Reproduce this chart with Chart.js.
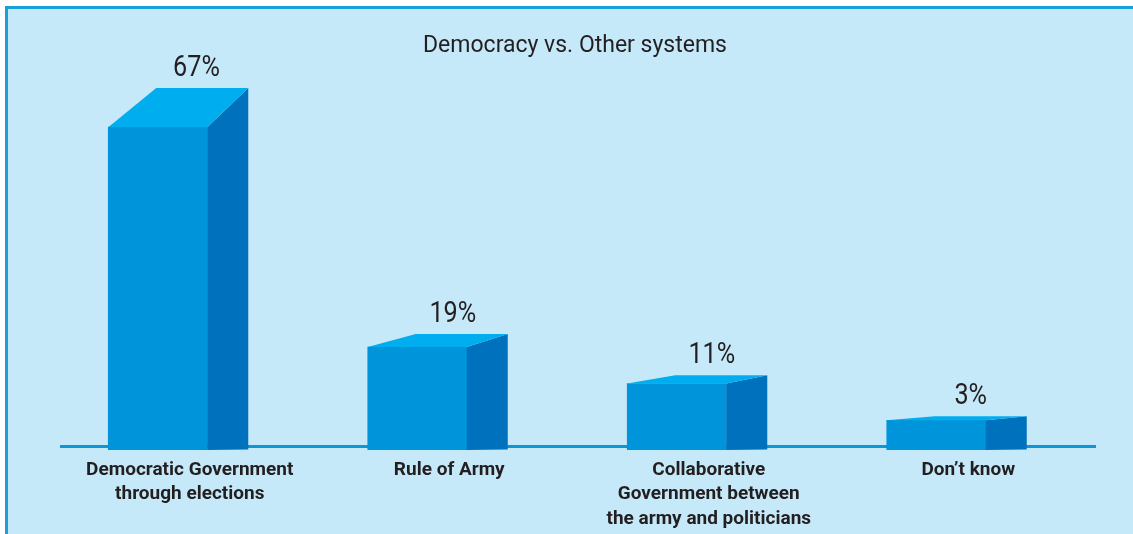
<!DOCTYPE html>
<html>
<head>
<meta charset="utf-8">
<script src="https://cdn.jsdelivr.net/npm/chart.js@4.4.1/dist/chart.umd.min.js"></script>
<style>
  body { margin: 0; background: #ffffff; }
  #box { position: absolute; left: 5px; top: 6px; width: 1140px; height: 540px;
         border: 3px solid #1b9fdb; background: #c6e9f9; }
  #wrap { position: absolute; left: 0; top: 0; width: 1133px; height: 534px; }
</style>
</head>
<body>
<div id="box"></div>
<div id="wrap"><canvas id="myChart" width="1133" height="534"></canvas></div>
<script>
const categories = [
  ['Democratic Government', 'through elections'],
  'Rule of Army',
  ['Collaborative', 'Government between', 'the army and politicians'],
  'Don\u2019t know'
];
const percents = [67, 19, 11, 3];
const chartTitle = 'Democracy vs. Other systems';

const face = 'Roboto, "Liberation Sans", sans-serif';
const labelShift = 32;

// draws the side and top faces of each bar, plus the value on top
const boxBars = {
  id: 'boxBars',
  beforeDatasetsDraw(chart) {
    const ctx = chart.ctx;
    const area = chart.chartArea;
    ctx.save();
    ctx.strokeStyle = '#0d96d8';
    ctx.lineWidth = 3;
    ctx.beginPath();
    ctx.moveTo(area.left + labelShift, area.bottom - 3.5);
    ctx.lineTo(area.right + labelShift - 2, area.bottom - 3.5);
    ctx.stroke();
    ctx.restore();
  },
  afterDatasetsDraw(chart) {
    const ctx = chart.ctx;
    const meta = chart.getDatasetMeta(0);
    ctx.save();
    meta.data.forEach((bar, i) => {
      const left = bar.x - bar.width / 2;
      const right = bar.x + bar.width / 2;
      const h = bar.base - bar.y;
      const dy = 0.12 * h + 0.5;
      // side
      ctx.fillStyle = '#0071bc';
      ctx.beginPath();
      ctx.moveTo(right, bar.y);
      ctx.lineTo(right + 41, bar.y - dy);
      ctx.lineTo(right + 41, bar.base - 0.5);
      ctx.lineTo(right, bar.base);
      ctx.closePath();
      ctx.fill();
      // top
      ctx.fillStyle = '#00aeef';
      ctx.beginPath();
      ctx.moveTo(left, bar.y);
      ctx.lineTo(right, bar.y);
      ctx.lineTo(right + 41, bar.y - dy);
      ctx.lineTo(left + 48, bar.y - dy);
      ctx.closePath();
      ctx.fill();
      // value, squeezed a little to look like a condensed face
      const cx = bar.x + labelShift + 2 + dy * 0.12;
      ctx.save();
      ctx.translate(cx, bar.y - dy - 12);
      ctx.scale(0.84, 1);
      ctx.fillStyle = '#231f20';
      ctx.font = '30px ' + face;
      ctx.textAlign = 'center';
      ctx.textBaseline = 'alphabetic';
      ctx.fillText(percents[i] + '%', 0, 0);
      ctx.restore();
    });
    ctx.restore();
  }
};

new Chart(document.getElementById('myChart'), {
  type: 'bar',
  data: {
    labels: categories,
    datasets: [{
      data: percents,
      base: -3.5,
      backgroundColor: '#0095da',
      borderWidth: 0,
      barThickness: 99
    }]
  },
  options: {
    responsive: false,
    animation: false,
    layout: { padding: { left: 28, right: 11, top: 0, bottom: 0 } },
    plugins: {
      legend: { display: false },
      tooltip: { enabled: false },
      title: {
        display: true,
        text: chartTitle,
        color: '#231f20',
        font: { family: face, size: 23, weight: 'normal' },
        padding: { top: 32, bottom: 8 }
      }
    },
    scales: {
      x: {
        grid: { display: false, drawTicks: false },
        border: { display: false },
        afterFit: (axis) => { axis.height = 84; },
        ticks: {
          labelOffset: labelShift,
          padding: 8,
          color: '#231f20',
          maxRotation: 0,
          autoSkip: false,
          font: { family: face, size: 19, weight: 'bold', lineHeight: 1.28 }
        }
      },
      y: {
        position: 'right',
        min: -3.5,
        max: 80,
        grid: { display: false },
        border: { display: false },
        ticks: { display: false },
        afterFit: (axis) => { axis.width = 56; }
      }
    }
  },
  plugins: [boxBars]
});
</script>
</body>
</html>
